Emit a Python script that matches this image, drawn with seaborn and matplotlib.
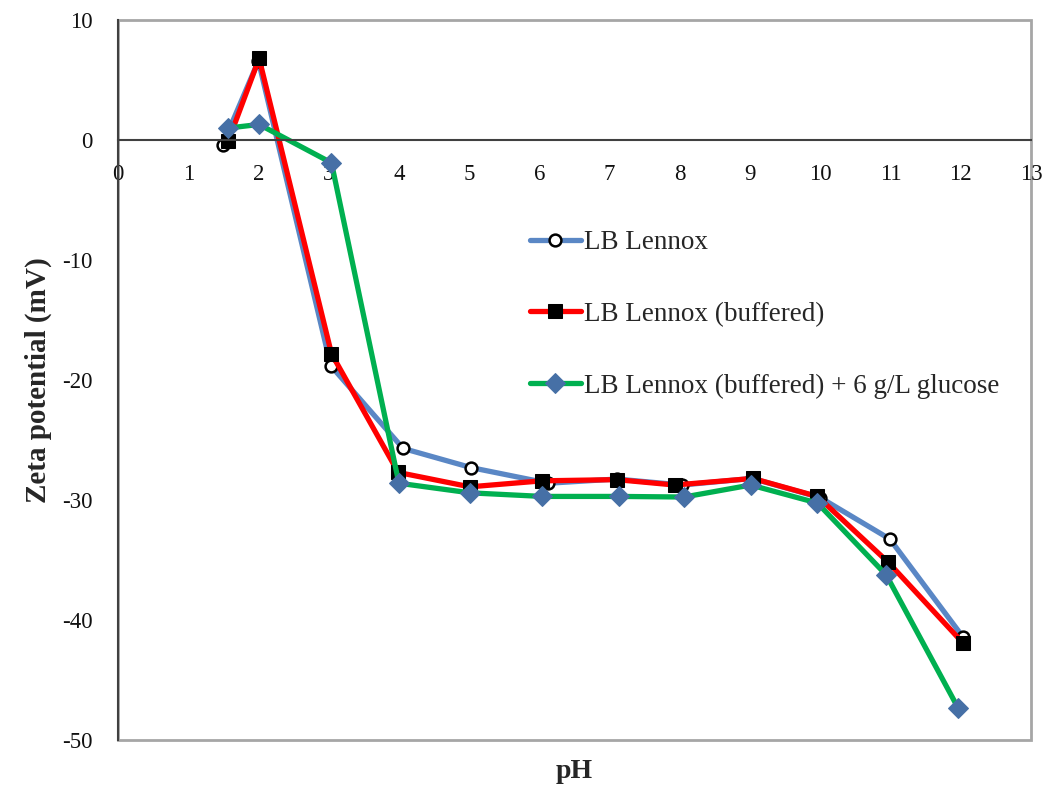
import matplotlib
matplotlib.use("Agg")
import matplotlib.pyplot as plt
import seaborn as sns
from matplotlib.patches import Rectangle

# zeta potential vs pH for three media
ph_lb = [1.49, 2.0, 3.03, 4.06, 5.03, 6.13, 7.1, 8.03, 9.03, 10.0, 10.99, 12.03]
zeta_lb = [-0.4, 6.6, -18.8, -25.7, -27.3, -28.6, -28.25, -28.75, -28.2, -29.8, -33.25, -41.4]

ph_buf = [1.57, 2.01, 3.04, 3.99, 5.01, 6.04, 7.1, 7.93, 9.04, 9.96, 10.97, 12.03]
zeta_buf = [-0.1, 6.8, -17.8, -27.7, -28.9, -28.4, -28.3, -28.75, -28.2, -29.7, -35.2, -41.9]

ph_glu = [1.57, 2.01, 3.04, 4.0, 5.01, 6.04, 7.14, 8.06, 9.01, 9.96, 10.94, 11.96]
zeta_glu = [1.0, 1.3, -1.9, -28.6, -29.4, -29.7, -29.7, -29.75, -28.75, -30.25, -36.25, -47.3]

labels = ["LB Lennox", "LB Lennox (buffered)", "LB Lennox (buffered) + 6 g/L glucose"]

sns.set_style("white")
plt.rcParams["font.family"] = ["Liberation Serif", "DejaVu Serif"]
plt.rcParams["axes.unicode_minus"] = False

fig = plt.figure(figsize=(10.44, 7.86), dpi=100)
ax = fig.add_axes([0.113, 0.0585, 0.8745, 0.916])

sns.lineplot(x=ph_lb, y=zeta_lb, ax=ax, sort=False, color="#5A87C5", lw=3.8,
             marker="o", markersize=8.5, markerfacecolor="white",
             markeredgecolor="black", markeredgewidth=1.8, label=labels[0])
sns.lineplot(x=ph_buf, y=zeta_buf, ax=ax, sort=False, color="#FF0000", lw=3.8,
             marker="s", markersize=10, markerfacecolor="black",
             markeredgecolor="black", label=labels[1])
sns.lineplot(x=ph_glu, y=zeta_glu, ax=ax, sort=False, color="#00B050", lw=3.8,
             marker="D", markersize=10, markerfacecolor="#4670A6",
             markeredgecolor="#4670A6", label=labels[2])

ax.set_xlim(0, 13)
ax.set_ylim(-50, 10)
ax.set_xticks(range(0, 14))
ax.set_yticks(range(-50, 11, 10))

# x axis crosses at zero
ax.spines["bottom"].set_position(("data", 0))
for s in ["top", "right"]:
    ax.spines[s].set_visible(False)
ax.spines["left"].set_color("#404040")
ax.spines["bottom"].set_color("#404040")
ax.spines["left"].set_linewidth(1.5)
ax.spines["bottom"].set_linewidth(1.5)
ax.add_patch(Rectangle((0, 0), 1, 1, transform=ax.transAxes, fill=False,
                       edgecolor="#A6A6A6", lw=2, clip_on=False, zorder=0))

ax.tick_params(axis="both", direction="out", length=6, width=1.3,
               color="#404040", labelsize=16.5, labelcolor="#111111")
ax.tick_params(axis="y", pad=12)
ax.tick_params(axis="x", pad=11)

ax.set_xlabel("pH", fontsize=20, fontweight="bold")
ax.set_ylabel("Zeta potential (mV)", fontsize=21, fontweight="bold")
ax.xaxis.set_label_coords(0.5, -0.026)
ax.yaxis.set_label_coords(-0.072, 0.5)

ax.legend(loc="upper left", bbox_to_anchor=(0.451, 0.708), frameon=False,
          fontsize=19.5, handlelength=1.9, handletextpad=0.1, labelspacing=1.72,
          borderpad=0, borderaxespad=0)

fig.savefig("out.png", dpi=100)
